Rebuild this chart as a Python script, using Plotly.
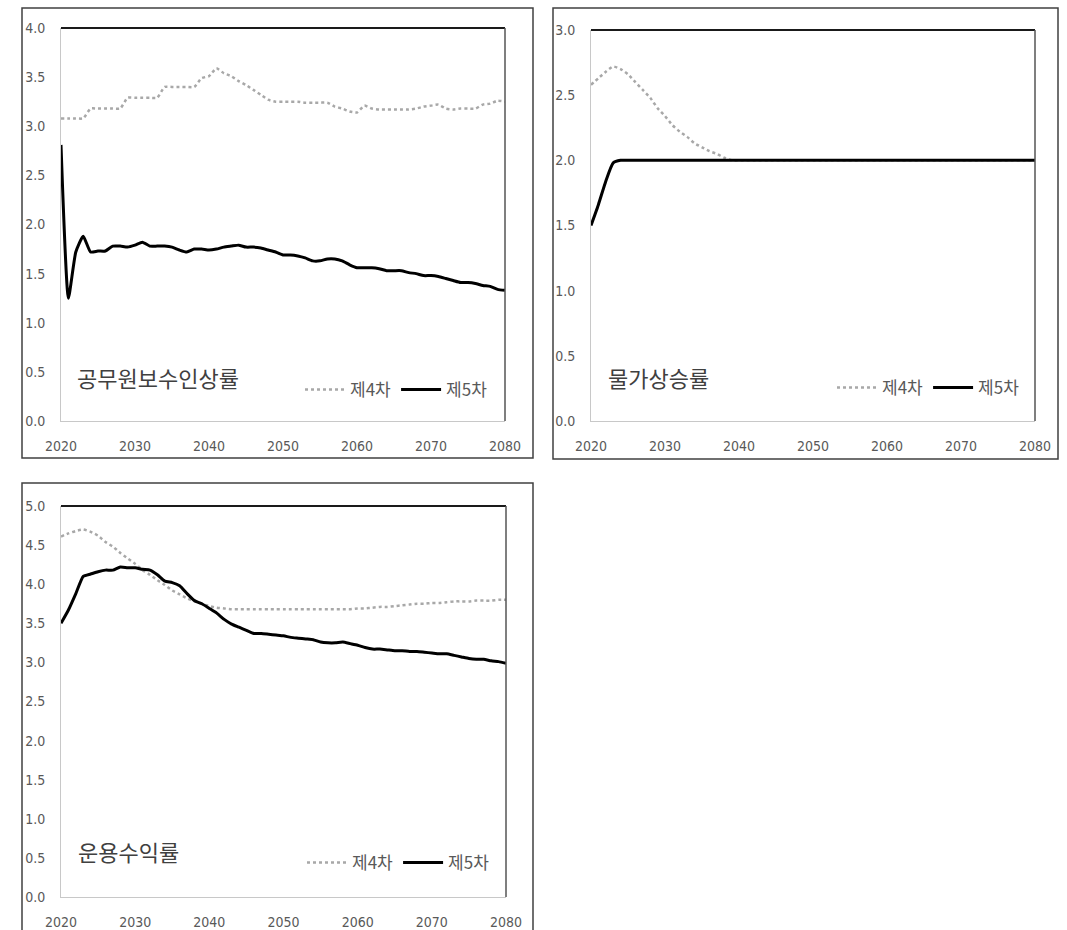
import plotly.graph_objects as go

W, H = 1067, 930

years = list(range(2020, 2081))

# Panel 1: 공무원보수인상률
wage_4th = [3.08, 3.08, 3.08, 3.08, 3.18, 3.18, 3.18, 3.18, 3.18, 3.29,
            3.29, 3.29, 3.29, 3.29, 3.40, 3.40, 3.40, 3.40, 3.40, 3.49,
            3.51, 3.59, 3.54, 3.51, 3.46, 3.42, 3.37, 3.32, 3.27, 3.25,
            3.25, 3.25, 3.25, 3.24, 3.24, 3.24, 3.24, 3.20, 3.18, 3.15,
            3.14, 3.21, 3.18, 3.17, 3.17, 3.17, 3.17, 3.17, 3.18, 3.20,
            3.21, 3.22, 3.18, 3.17, 3.18, 3.18, 3.18, 3.22, 3.23, 3.26,
            3.25]
wage_5th = [2.81, 1.25, 1.72, 1.88, 1.72, 1.73, 1.73, 1.78, 1.78, 1.77,
            1.79, 1.82, 1.78, 1.78, 1.78, 1.77, 1.74, 1.72, 1.75, 1.75,
            1.74, 1.75, 1.77, 1.78, 1.79, 1.77, 1.77, 1.76, 1.74, 1.72,
            1.69, 1.69, 1.68, 1.66, 1.63, 1.63, 1.65, 1.65, 1.63, 1.59,
            1.56, 1.56, 1.56, 1.55, 1.53, 1.53, 1.53, 1.51, 1.50, 1.48,
            1.48, 1.47, 1.45, 1.43, 1.41, 1.41, 1.40, 1.38, 1.37, 1.34,
            1.33]

# Panel 2: 물가상승률
cpi_4th = [2.58, 2.63, 2.68, 2.72, 2.70, 2.66, 2.60, 2.54, 2.48, 2.40,
           2.34, 2.27, 2.22, 2.18, 2.13, 2.10, 2.07, 2.05, 2.02, 2.00] + [2.0] * 41
cpi_5th = [1.50, 1.66, 1.84, 1.98] + [2.0] * 57

# Panel 3: 운용수익률
ret_4th = [4.61, 4.65, 4.68, 4.70, 4.67, 4.62, 4.54, 4.48, 4.40, 4.33,
           4.26, 4.18, 4.12, 4.05, 3.99, 3.92, 3.87, 3.82, 3.78, 3.75,
           3.72, 3.70, 3.69, 3.68, 3.68, 3.68, 3.68, 3.68, 3.68, 3.68,
           3.68, 3.68, 3.68, 3.68, 3.68, 3.68, 3.68, 3.68, 3.68, 3.68,
           3.69, 3.69, 3.70, 3.71, 3.71, 3.72, 3.73, 3.74, 3.75, 3.75,
           3.76, 3.76, 3.77, 3.78, 3.78, 3.78, 3.79, 3.79, 3.79, 3.80,
           3.80]
ret_5th = [3.50, 3.67, 3.88, 4.10, 4.13, 4.16, 4.18, 4.18, 4.22, 4.21,
           4.21, 4.19, 4.18, 4.12, 4.04, 4.02, 3.98, 3.88, 3.79, 3.75,
           3.69, 3.63, 3.55, 3.49, 3.45, 3.41, 3.37, 3.37, 3.36, 3.35,
           3.34, 3.32, 3.31, 3.30, 3.29, 3.26, 3.25, 3.25, 3.26, 3.24,
           3.22, 3.19, 3.17, 3.17, 3.16, 3.15, 3.15, 3.14, 3.14, 3.13,
           3.12, 3.11, 3.11, 3.09, 3.07, 3.05, 3.04, 3.04, 3.02, 3.01,
           2.99]

titles = ["공무원보수인상률", "물가상승률", "운용수익률"]
series_names = ["제4차", "제5차"]
y_max = [4.0, 3.0, 5.0]
x_ticks = [2020, 2030, 2040, 2050, 2060, 2070, 2080]

panels_data = [(wage_4th, wage_5th), (cpi_4th, cpi_5th), (ret_4th, ret_5th)]

# layout in screen pixels: plot area (left, right, top, bottom), outer frame, title pos, legend pos
plot_px = [(61, 505, 28, 421), (591, 1035, 30, 421), (61, 506, 506, 897)]
frame_px = [(22, 533, 8, 458), (553, 1058, 8, 459), (22, 533, 483, 945)]
title_px = [(75, 377), (606, 377), (76, 851)]
legend_px = [(300, 390), (832, 388), (302, 863)]


def px_x(v):
    return v / W


def px_y(v):
    return 1 - v / H


TICK_FONT = dict(family="Liberation Sans Narrow, Arial Narrow, DejaVu Sans Condensed, sans-serif",
                 size=14, color="#595959")
CJK = "Noto Sans CJK KR, Noto Sans CJK SC, sans-serif"

fig = go.Figure()
shapes = []
annotations = []
layout = {}

for i, (d4, d5) in enumerate(panels_data):
    n = "" if i == 0 else str(i + 1)
    xa, ya = "x" + n, "y" + n
    leg = "legend" + n
    fig.add_trace(go.Scatter(x=years, y=d4, mode="lines", name=series_names[0],
                             line=dict(color="#a8a8a8", width=2.5, dash="dot",
                                       shape="spline", smoothing=0.5),
                             xaxis=xa, yaxis=ya, legend=leg))
    fig.add_trace(go.Scatter(x=years, y=d5, mode="lines", name=series_names[1],
                             line=dict(color="#000000", width=3,
                                       shape="spline", smoothing=0.5),
                             xaxis=xa, yaxis=ya, legend=leg))
    l, r, t, b = plot_px[i]
    layout["xaxis" + n] = dict(
        domain=[px_x(l), px_x(r)], anchor=ya, range=[2020, 2080],
        tickmode="array", tickvals=x_ticks, ticks="", showgrid=False, zeroline=False,
        showline=True, linecolor="#c8c8c8", linewidth=1, tickfont=TICK_FONT,
        ticklabelstandoff=12, automargin=False,
    )
    layout["yaxis" + n] = dict(
        domain=[px_y(b), px_y(t)], anchor=xa, range=[0, y_max[i]], dtick=0.5,
        tickformat=".1f", ticks="", showgrid=False, zeroline=False,
        showline=True, linecolor="#c8c8c8", linewidth=1, tickfont=TICK_FONT,
        ticklabelstandoff=12, automargin=False,
    )
    lx, ly = legend_px[i]
    layout[leg] = dict(
        orientation="h", x=px_x(lx), y=px_y(ly), xanchor="left", yanchor="middle",
        bgcolor="rgba(0,0,0,0)", font=dict(family=CJK, size=17, color="#595959"),
        itemwidth=40, tracegroupgap=0, itemclick=False,
    )
    # top (dark) and right (dark gray) borders of plot area
    shapes.append(dict(type="line", xref=xa + " domain", yref=ya + " domain",
                       x0=0, x1=1, y0=1, y1=1, line=dict(color="#1a1a1a", width=2)))
    shapes.append(dict(type="line", xref=xa + " domain", yref=ya + " domain",
                       x0=1, x1=1, y0=0, y1=1, line=dict(color="#555555", width=1.5)))
    # outer frame
    fl, fr, ft, fb = frame_px[i]
    shapes.append(dict(type="rect", xref="paper", yref="paper",
                       x0=px_x(fl), x1=px_x(fr), y0=px_y(fb), y1=px_y(ft),
                       line=dict(color="#404040", width=1.5), fillcolor="rgba(0,0,0,0)"))
    tx, ty = title_px[i]
    annotations.append(dict(text=titles[i], xref="paper", yref="paper",
                            x=px_x(tx), y=px_y(ty), xanchor="left", yanchor="middle",
                            showarrow=False, font=dict(family=CJK, size=22, color="#404040")))

fig.update_layout(
    width=W, height=H, margin=dict(l=0, r=0, t=0, b=0, autoexpand=False),
    paper_bgcolor="white", plot_bgcolor="white", hovermode=False,
    shapes=shapes, annotations=annotations, **layout,
)

fig.write_html(
    "out.html",
    config={"displayModeBar": False},
    post_script="document.body.style.margin='0';document.body.style.overflow='hidden';",
)
